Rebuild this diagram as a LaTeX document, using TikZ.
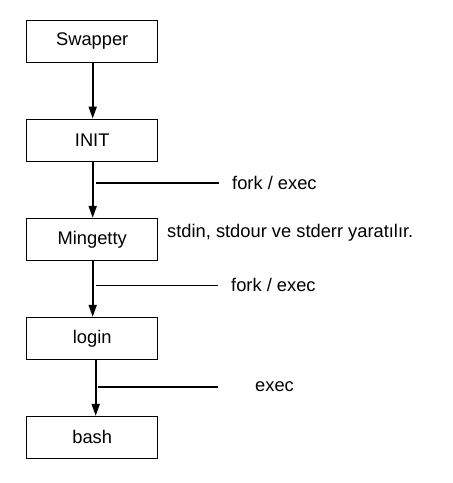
\documentclass[tikz,border=0pt]{standalone}
\usepackage{fontspec}
\setmainfont{Liberation Sans}
\usetikzlibrary{arrows.meta}
\begin{document}
\begin{tikzpicture}[x=1pt,y=-1pt,
  procbox/.style={draw=black,line width=0.9pt,minimum width=131pt,minimum height=42pt,inner sep=0pt,font=\fontsize{18.3}{21}\selectfont,text=black},
  flow/.style={line width=1.8pt,-{Triangle[length=12pt,width=8pt]}},
  branch/.style={line width=1.3pt},
  lbl/.style={anchor=west,inner sep=0pt,font=\fontsize{18.3}{21}\selectfont,text=black}]
\useasboundingbox (0,0) rectangle (453,483);
\node[procbox] (swap) at (92.2,41.3) {Swapper};
\node[procbox] (init) at (92.2,140) {INIT};
\node[procbox] (ming) at (92.2,239.3) {Mingetty};
\node[procbox] (login) at (92.2,338.3) {login};
\node[procbox] (bash) at (92.2,437.3) {bash};
\draw[flow] ([xshift=0.5pt]swap.south) -- ([xshift=0.5pt]init.north);
\draw[flow] ([xshift=0.5pt]init.south) -- ([xshift=0.5pt]ming.north);
\draw[flow] ([xshift=0.5pt]ming.south) -- ([xshift=0.5pt]login.north);
\draw[flow] ([xshift=3.5pt]login.south) -- ([xshift=3.5pt]bash.north);
\coordinate (b1s) at (95.5,183);
\coordinate (b1e) at (219,183);
\coordinate (b2s) at (95.5,285.3);
\coordinate (b2e) at (218,285.3);
\coordinate (b3s) at (97.5,387);
\coordinate (b3e) at (218,387);
\draw[branch] (b1s) -- (b1e);
\draw[branch] (b2s) -- (b2e);
\draw[branch] (b3s) -- (b3e);
\node[lbl] (l1) at (232,183) {fork / exec};
\node[lbl] (l2) at (231,285.3) {fork / exec};
\node[lbl] (l3) at (255,387) {exec};
\node[lbl] (l4) at (167,232.5) {stdin, stdour ve stderr yaratılır.};
\end{tikzpicture}
\end{document}
